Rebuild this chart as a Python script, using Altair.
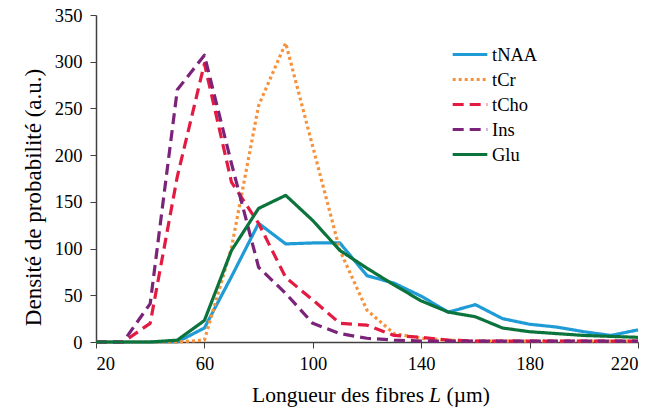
import altair as alt
import pandas as pd

# Fibre length L (µm)
x_vals = [20, 30, 40, 50, 60, 70, 80, 90, 100, 110, 120, 130, 140, 150, 160, 170, 180, 190, 200, 210, 220]

tNAA = [0, 0, 0, 0, 15, 70, 127, 105, 106, 106, 71, 63, 49, 32, 40, 25, 19, 16, 11, 7, 13]
tCr  = [0, 0, 0, 0, 2, 101, 253, 320, 209, 98, 34, 9, 4, 2, 1, 1, 1, 1, 1, 1, 1]
tCho = [0, 0, 20, 177, 298, 171, 127, 69, 45, 20, 18, 7, 5, 2, 1, 1, 1, 1, 1, 1, 1]
Ins  = [0, 0, 41, 270, 307, 191, 80, 52, 20, 9, 4, 2, 1, 1, 1, 1, 1, 1, 1, 1, 1]
Glu  = [0, 0, 0, 2, 23, 98, 143, 157, 130, 98, 79, 61, 44, 32, 27, 15, 11, 9, 7, 6, 5]

series_names = ["tNAA", "tCr", "tCho", "Ins", "Glu"]
series_values = [tNAA, tCr, tCho, Ins, Glu]
colors = ["#1F9BD6", "#F7923C", "#E31B42", "#7A2379", "#0B733C"]
dashes = [[1, 0], [3, 3], [11, 6], [11, 6], [1, 0]]

x_ticks = [20, 60, 100, 140, 180, 220]
y_ticks = [0, 50, 100, 150, 200, 250, 300, 350]

rows = []
for name, vals in zip(series_names, series_values):
    for xv, v in zip(x_vals, vals):
        rows.append({"L": xv, "val": v, "serie": name})
df = pd.DataFrame(rows)

FONT = "Times New Roman, Liberation Serif, serif"
AXC = "#404040"

legend = alt.Legend(
    title=None, orient="none", legendX=355, legendY=27,
    symbolType="stroke", symbolSize=1200, symbolStrokeWidth=3,
    labelFont=FONT, labelFontSize=18.5, labelColor="black",
    labelOffset=3, rowPadding=0, clipHeight=25,
)

lines = alt.Chart(df).mark_line(strokeWidth=3.2, strokeJoin="round").encode(
    x=alt.X("L:Q",
            scale=alt.Scale(domain=[20, 220], nice=False, zero=False),
            axis=alt.Axis(values=x_ticks, title=None, grid=False, tickSize=6,
                          labelPadding=6, labelFont=FONT, labelFontSize=18.5,
                          labelColor="black", domainColor=AXC, tickColor=AXC,
                          domainWidth=1.5)),
    y=alt.Y("val:Q",
            scale=alt.Scale(domain=[0, 350], nice=False),
            axis=alt.Axis(values=y_ticks, title="Densité de probabilité (a.u.)",
                          grid=False, tickSize=6, labelPadding=8, labelFont=FONT,
                          labelFontSize=18.5, labelColor="black", domainColor=AXC,
                          tickColor=AXC, domainWidth=1.5, titleFont=FONT,
                          titleFontSize=23, titleFontWeight="normal",
                          titleColor="black", titleX=-63, titleY=182,
                          titleBaseline="middle", titleAngle=270)),
    color=alt.Color("serie:N", scale=alt.Scale(domain=series_names, range=colors),
                    legend=legend),
    strokeDash=alt.StrokeDash("serie:N", scale=alt.Scale(domain=series_names, range=dashes),
                              legend=legend),
)

base_txt = alt.Chart(pd.DataFrame({"a": [0]}))
t1 = base_txt.mark_text(text="Longueur des fibres", align="right", baseline="alphabetic",
                        font=FONT, fontSize=21.5, color="black").encode(
    x=alt.value(328), y=alt.value(387))
t2 = base_txt.mark_text(text="L", align="center", baseline="alphabetic", font=FONT,
                        fontSize=21.5, fontStyle="italic", color="black").encode(
    x=alt.value(339), y=alt.value(387))
t3 = base_txt.mark_text(text="(µm)", align="left", baseline="alphabetic", font=FONT,
                        fontSize=21.5, color="black").encode(
    x=alt.value(350.5), y=alt.value(387))

chart = alt.layer(lines, t1, t2, t3).properties(
    width=542, height=327,
    padding={"left": 96, "top": 15, "right": 13, "bottom": 71},
    autosize=alt.AutoSizeParams(type="none"),
    background="white",
).configure_view(stroke=None)

chart.save("out.html", embed_options={"renderer": "svg", "actions": False})
